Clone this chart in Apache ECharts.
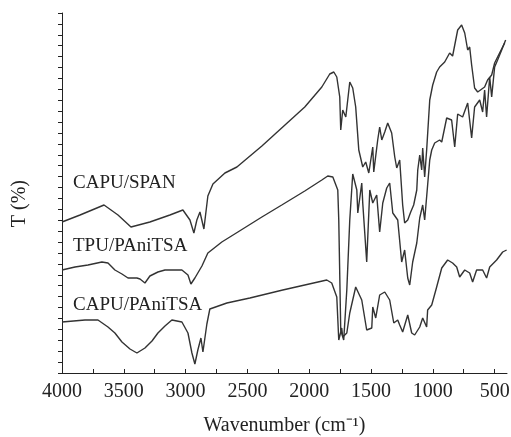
<!DOCTYPE html>
<html>
<head>
<meta charset="utf-8">
<script src="https://cdn.jsdelivr.net/npm/echarts@6/dist/echarts.min.js"></script>
<style>
  html, body { margin: 0; padding: 0; background: #fff; }
  #chart { width: 511px; height: 437px; }
</style>
</head>
<body>
<div id="chart"></div>
<script>
// wavenumber (cm-1) and transmittance (arbitrary offset units) for each spectrum
var capuSpanWn = [4000, 3854, 3660, 3547, 3442, 3289, 3127, 3022, 2965, 2933, 2909, 2884, 2852, 2820, 2779, 2682, 2585, 2383, 2294, 2036, 1898, 1834, 1801, 1777, 1753, 1745, 1729, 1704, 1672, 1648, 1624, 1599, 1567, 1543, 1518, 1486, 1478, 1446, 1430, 1413, 1389, 1365, 1333, 1308, 1292, 1268, 1244, 1228, 1203, 1179, 1155, 1130, 1122, 1106, 1090, 1082, 1066, 1050, 1025, 1001, 969, 945, 904, 864, 840, 799, 767, 742, 718, 702, 686, 662, 637, 621, 581, 557, 524, 500, 460, 419];
var capuSpanT = [151, 158, 168, 158, 146, 151, 158, 163, 153, 140, 153, 161, 144, 177, 189, 200, 206, 227, 237, 266, 286, 299, 301, 296, 276, 243, 263, 256, 291, 285, 266, 223, 206, 211, 200, 226, 201, 233, 246, 233, 241, 250, 240, 216, 205, 213, 168, 150, 153, 161, 168, 183, 203, 218, 203, 225, 196, 223, 273, 288, 301, 306, 311, 320, 317, 343, 348, 340, 323, 326, 308, 285, 281, 283, 286, 293, 298, 310, 320, 330];

var tpuWn = [4000, 3895, 3790, 3677, 3628, 3572, 3515, 3466, 3394, 3369, 3329, 3289, 3224, 3167, 3030, 2981, 2957, 2925, 2868, 2820, 2707, 2577, 2383, 2222, 2036, 1898, 1850, 1809, 1769, 1761, 1745, 1721, 1696, 1672, 1648, 1615, 1607, 1575, 1567, 1535, 1510, 1486, 1454, 1430, 1405, 1373, 1349, 1324, 1284, 1252, 1228, 1203, 1187, 1163, 1130, 1106, 1082, 1066, 1042, 1025, 1009, 985, 945, 928, 888, 848, 823, 799, 759, 718, 686, 662, 621, 597, 581, 565, 540, 524, 500, 476, 443, 411];
var tpuT = [103, 106, 108, 111, 110, 103, 99, 95, 95, 94, 90, 97, 101, 103, 103, 98, 89, 95, 107, 120, 131, 141, 156, 168, 182, 193, 197, 196, 183, 153, 43, 33, 83, 153, 199, 183, 160, 190, 170, 111, 183, 170, 178, 141, 170, 185, 190, 160, 153, 111, 123, 95, 88, 111, 130, 155, 168, 153, 188, 213, 223, 230, 233, 231, 255, 253, 226, 259, 256, 270, 235, 266, 273, 261, 283, 256, 296, 276, 306, 313, 323, 333];

var capuPaniWn = [4000, 3814, 3709, 3628, 3572, 3515, 3450, 3394, 3329, 3272, 3224, 3167, 3111, 3030, 2981, 2949, 2925, 2901, 2876, 2860, 2828, 2804, 2666, 2480, 2214, 1858, 1818, 1777, 1761, 1737, 1729, 1696, 1672, 1624, 1575, 1535, 1494, 1486, 1462, 1430, 1389, 1349, 1316, 1284, 1268, 1244, 1203, 1171, 1147, 1106, 1082, 1050, 1042, 1009, 969, 928, 880, 840, 807, 783, 742, 702, 678, 646, 597, 565, 540, 484, 435, 403];
var capuPaniT = [51, 53, 53, 46, 40, 31, 24, 20, 25, 32, 40, 47, 53, 51, 40, 20, 9, 23, 35, 21, 49, 64, 70, 75, 83, 93, 90, 76, 33, 45, 36, 40, 60, 86, 73, 43, 45, 66, 55, 78, 81, 73, 50, 53, 48, 41, 58, 40, 38, 46, 55, 46, 63, 68, 86, 105, 113, 110, 106, 96, 103, 100, 91, 103, 103, 95, 106, 113, 121, 123];

var labelTicks = [4000, 3500, 3000, 2500, 2000, 1500, 1000, 500];
var minorTicks = [4000, 3750, 3500, 3250, 3000, 2750, 2500, 2250, 2000, 1750, 1500, 1250, 1000, 750, 500];
var seriesNames = ['CAPU/SPAN', 'TPU/PAniTSA', 'CAPU/PAniTSA'];

function pairs(xs, ys) {
  return xs.map(function (x, i) { return [x, ys[i]] })
}

var serif = 'Liberation Serif';
var lineColor = '#333';
var textFont = '20px "Liberation Serif"';
var tagFont = '19px "Liberation Serif"';

var chart = echarts.init(document.getElementById('chart'));
var option = {
  animation: false,
  backgroundColor: '#fff',
  grid: { left: 62, right: 4, top: 13, bottom: 64, containLabel: false, outerBoundsMode: 'none' },
  xAxis: {
    type: 'value',
    inverse: true,
    min: 400,
    max: 4000,
    name: 'Wavenumber (cm\u207B\u00B9)',
    nameLocation: 'middle',
    nameGap: 43,
    nameTextStyle: { fontFamily: serif, fontSize: 20, color: '#222' },
    axisLine: { lineStyle: { color: '#222', width: 1 } },
    axisTick: { inside: true, length: 4, customValues: minorTicks, lineStyle: { color: '#222' } },
    axisLabel: {
      customValues: labelTicks, margin: 9, fontFamily: serif, fontSize: 20, color: '#222',
      formatter: function (v) { return String(v) }
    },
    splitLine: { show: false }
  },
  yAxis: {
    type: 'value',
    min: 0,
    max: 360,
    interval: 360 / 33,
    axisLine: { show: true, lineStyle: { color: '#222', width: 1 } },
    axisTick: { show: true, length: 4, lineStyle: { color: '#222' } },
    axisLabel: { show: false },
    splitLine: { show: false }
  },
  graphic: [
    { type: 'text', left: 10, top: 180, rotation: Math.PI / 2,
      style: { text: 'T (%)', font: textFont, fill: '#222' } },
    { type: 'text', left: 73, top: 174, style: { text: seriesNames[0], font: tagFont, fill: '#222' } },
    { type: 'text', left: 73, top: 237, style: { text: seriesNames[1], font: tagFont, fill: '#222' } },
    { type: 'text', left: 73, top: 296, style: { text: seriesNames[2], font: tagFont, fill: '#222' } }
  ],
  series: [
    { name: seriesNames[0], type: 'line', data: pairs(capuSpanWn, capuSpanT) },
    { name: seriesNames[1], type: 'line', data: pairs(tpuWn, tpuT) },
    { name: seriesNames[2], type: 'line', data: pairs(capuPaniWn, capuPaniT) }
  ].map(function (s) {
    s.showSymbol = false;
    s.lineStyle = { color: lineColor, width: 1.4 };
    return s
  })
};
chart.setOption(option);
</script>
</body>
</html>
